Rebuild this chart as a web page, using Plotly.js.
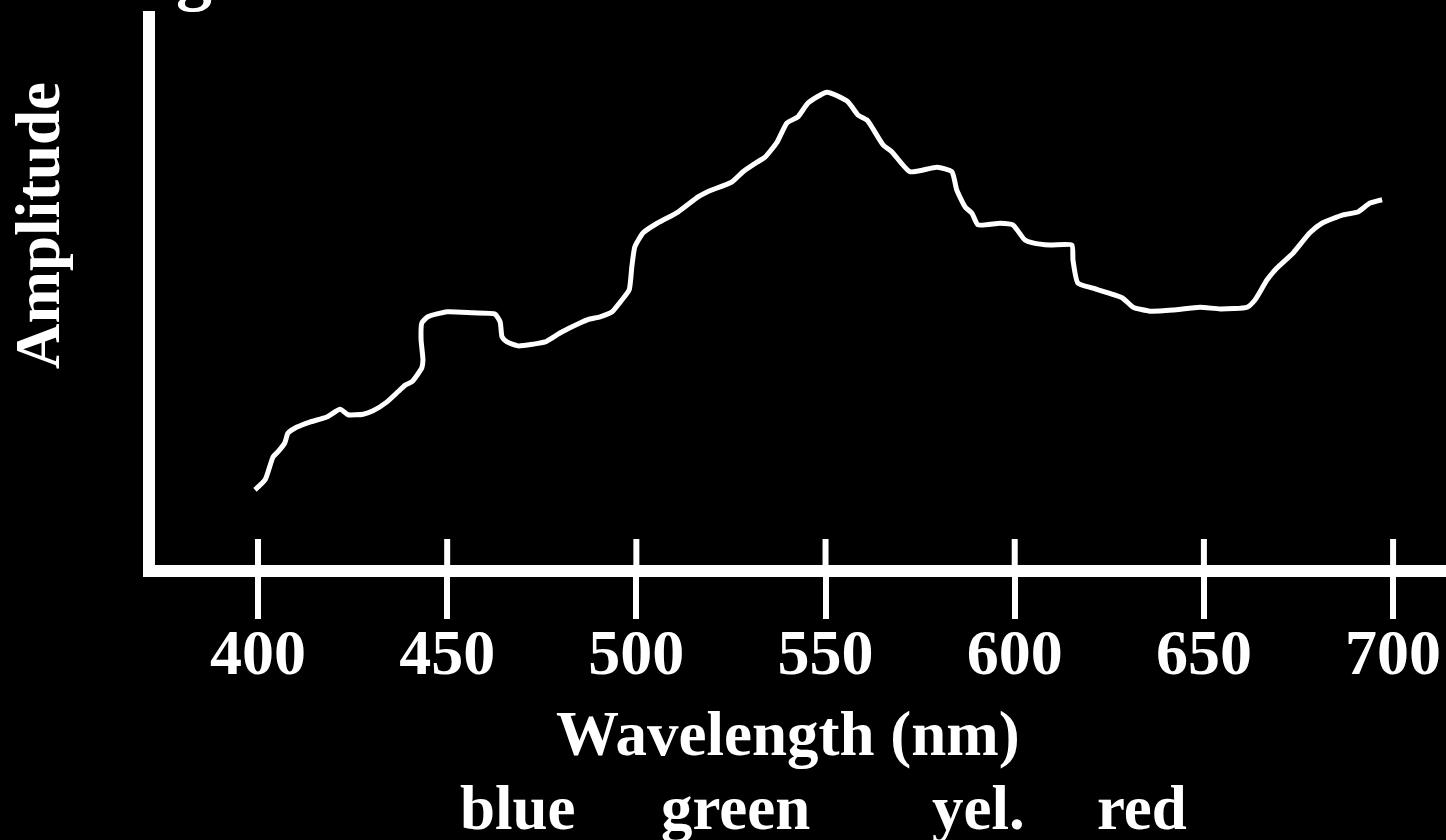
<!DOCTYPE html>
<html>
<head>
<meta charset="utf-8">
<script src="https://cdn.plot.ly/plotly-3.0.1.min.js"></script>
<style>
  html, body { margin: 0; padding: 0; background: #000; }
  #chart { width: 1446px; height: 840px; }
</style>
</head>
<body>
<div id="chart"></div>
<script>
// ---- data ----
const wavelength = [399.2, 401.9, 404.0, 405.3, 407.1, 407.9, 410.3, 413.7, 418.2, 421.7,
  423.8, 427.8, 430.4, 434.1, 437.0, 438.9, 440.7, 443.3, 443.6, 443.1,
  443.3, 444.9, 450.0, 456.8, 462.6, 464.0, 464.5, 465.8, 468.7, 472.7,
  475.9, 479.8, 485.1, 487.7, 490.4, 493.6, 495.7, 498.1, 498.8, 499.6,
  501.8, 505.5, 511.0, 516.3, 518.7, 525.3, 528.2, 531.9, 534.0, 537.2,
  539.8, 542.7, 545.4, 550.4, 555.9, 558.6, 561.0, 565.2, 567.6, 572.3,
  579.5, 583.4, 584.7, 586.9, 588.7, 590.3, 596.1, 599.5, 602.7, 604.8,
  609.3, 615.1, 615.4, 616.7, 620.7, 628.4, 631.3, 635.8, 641.8, 649.0,
  654.3, 661.4, 663.5, 666.7, 669.3, 673.6, 678.0, 681.2, 686.8, 690.7,
  693.9, 697.1];
const amplitude = [14.5, 16.3, 20.4, 21.3, 22.9, 24.6, 25.7, 26.6, 27.5, 28.9,
  27.9, 28.0, 28.6, 30.2, 32.0, 33.2, 33.8, 36.3, 37.7, 41.3,
  44.3, 45.4, 46.3, 46.1, 45.9, 44.5, 41.8, 40.9, 40.2, 40.5,
  40.9, 42.5, 44.3, 45.0, 45.4, 46.3, 48.0, 50.2, 54.3, 57.9,
  60.4, 62.1, 64.1, 66.8, 67.7, 69.5, 71.3, 73.0, 73.9, 76.6,
  80.0, 81.1, 83.6, 85.5, 83.8, 81.4, 80.5, 76.1, 74.8, 71.3,
  72.1, 71.3, 68.0, 65.0, 63.9, 61.8, 62.1, 61.8, 59.1, 58.6,
  58.2, 58.2, 55.5, 51.4, 50.5, 48.8, 47.1, 46.4, 46.6, 47.1,
  46.8, 47.1, 48.4, 52.0, 54.1, 56.8, 60.4, 62.1, 63.6, 64.1,
  65.7, 66.3];
const tickValues = [400, 450, 500, 550, 600, 650, 700];
const tickLabels = ["400", "450", "500", "550", "600", "650", "700"];
const xTitle = "Wavelength (nm)";
const yTitle = "Amplitude";
const colorNames = ["blue", "green", "yel.", "red"];
const colorNamePx = [518, 735, 978, 1142];
const cutTitle = "g";

// ---- layout helpers (pixel -> paper) ----
const L = 155, T = 11, W = 1446 - 155, H = 565 - 11;
const px = p => (p - L) / W;
const py = p => (T + H - p) / H;
const FONT = "Liberation Serif, Times New Roman, serif";
const txt = (size) => ({ family: FONT, size: size, color: "#ffffff", weight: "bold" });

const annotations = [];
annotations.push({ text: "<b>" + xTitle + "</b>", xref: "paper", yref: "paper",
  x: px(788), y: py(734), xanchor: "center", yanchor: "middle", showarrow: false, font: txt(63) });
colorNames.forEach((n, i) => annotations.push({ text: "<b>" + n + "</b>", xref: "paper", yref: "paper",
  x: px(colorNamePx[i]), y: py(808), xanchor: "center", yanchor: "middle", showarrow: false, font: txt(63) }));
annotations.push({ text: "<b>" + yTitle + "</b>", xref: "paper", yref: "paper", textangle: -90,
  x: px(38), y: py(226), xanchor: "center", yanchor: "middle", showarrow: false, font: txt(63) });
annotations.push({ text: "<b>" + cutTitle + "</b>", xref: "paper", yref: "paper",
  x: px(194), y: py(-27), xanchor: "center", yanchor: "middle", showarrow: false, font: txt(72) });

// upper halves of the cross ticks (the lower halves are the axis ticks)
const shapes = tickValues.map(v => ({
  type: "line", xref: "x", yref: "paper", x0: v, x1: v, y0: 0, y1: py(539),
  line: { color: "#ffffff", width: 6 }, layer: "above"
}));

const xr = [400 + (155 - 258) / 3.7836, 400 + (1446 - 258) / 3.7836];

const trace = {
  x: wavelength, y: amplitude, type: "scatter", mode: "lines",
  line: { color: "#ffffff", width: 5, shape: "spline", smoothing: 0.5 },
  hoverinfo: "skip"
};

const layout = {
  width: 1446, height: 840,
  paper_bgcolor: "#000000", plot_bgcolor: "#000000",
  margin: { l: L, r: 0, t: T, b: 840 - 565, pad: 0 },
  showlegend: false,
  xaxis: {
    range: xr, showgrid: false, zeroline: false,
    showline: true, linecolor: "#ffffff", linewidth: 12,
    ticks: "outside", ticklen: 42, tickwidth: 6, tickcolor: "#ffffff",
    tickvals: tickValues, ticktext: tickLabels,
    ticklabelstandoff: -22,
    tickfont: txt(64)
  },
  yaxis: {
    range: [1.07, 100], showgrid: false, zeroline: false,
    showline: true, linecolor: "#ffffff", linewidth: 12,
    ticks: "", showticklabels: false
  },
  shapes: shapes,
  annotations: annotations
};

Plotly.newPlot("chart", [trace], layout, { displayModeBar: false, staticPlot: true });
</script>
</body>
</html>
